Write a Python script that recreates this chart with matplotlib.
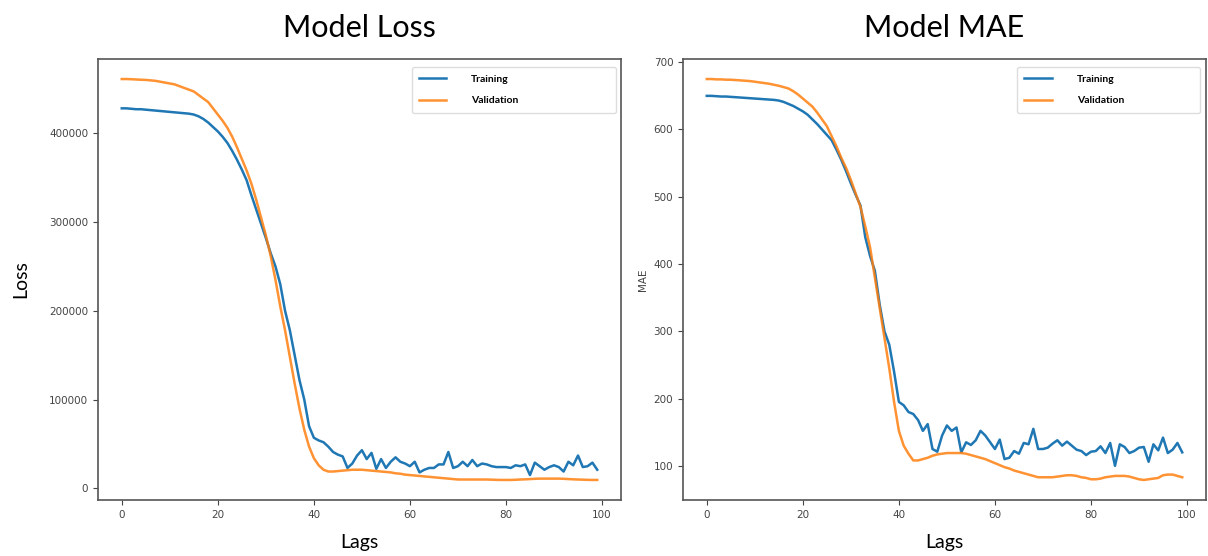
import matplotlib.pyplot as plt

epochs = list(range(100))

loss_train = [428000, 428000, 427500, 427000, 427000, 426500, 426000, 425500, 425000, 424500,
              424000, 423500, 423000, 422500, 422000, 421000, 419000, 416000, 412000, 407000,
              402000, 396000, 389000, 380000, 370000, 359000, 347000, 330000, 314000, 298000,
              282000, 265000, 250000, 230000, 200000, 178000, 150000, 122000, 100000, 70000,
              57000, 54000, 52000, 47000, 41000, 38000, 36000, 23000, 28000, 37000,
              43000, 33000, 40000, 22000, 33000, 23000, 30000, 35000, 30000, 28000,
              25000, 30000, 18000, 21000, 23000, 23000, 27000, 27000, 41000, 23000,
              25000, 30000, 25000, 32000, 25000, 28000, 27000, 25000, 24000, 24000,
              24000, 23000, 26000, 25000, 27000, 15000, 29000, 25000, 21000, 24000,
              26000, 24000, 19000, 30000, 26000, 37000, 24000, 25000, 29000, 21000]
loss_val = [461000, 461000, 460800, 460500, 460200, 460000, 459500, 459000, 458000, 457000,
            456000, 455000, 453000, 451000, 449000, 447000, 443000, 439000, 435000, 428000,
            421000, 414000, 406000, 396000, 384000, 371000, 358000, 343000, 325000, 305000,
            285000, 262000, 235000, 205000, 178000, 148000, 118000, 90000, 66000, 47000,
            34000, 26000, 21000, 19000, 19000, 19500, 20000, 20500, 21000, 21000,
            21000, 20500, 20000, 19500, 19000, 18500, 18000, 17000, 16500, 15500,
            15000, 14500, 14000, 13500, 13000, 12500, 12000, 11500, 11000, 10500,
            10000, 10000, 10000, 10000, 10000, 10000, 10000, 9800, 9600, 9500,
            9500, 9500, 9700, 10000, 10200, 10500, 10800, 11000, 11000, 11000,
            11000, 11000, 10800, 10500, 10200, 10000, 9800, 9600, 9500, 9500]

mae_train = [650, 650, 649.5, 649, 649, 648.5, 648, 647.5, 647, 646.5,
             646, 645.5, 645, 644.5, 644, 643, 641, 638, 635, 631,
             627, 622, 615, 608, 600, 592, 584, 570, 555, 538,
             520, 503, 487, 440, 412, 390, 340, 300, 280, 240,
             195, 190, 180, 177, 168, 152, 162, 125, 121, 145,
             160, 152, 157, 120, 135, 131, 138, 152, 145, 135,
             125, 139, 110, 112, 122, 118, 134, 132, 155, 125,
             125, 127, 133, 138, 130, 136, 130, 124, 122, 116,
             121, 122, 129, 119, 134, 100, 132, 128, 119, 122,
             127, 128, 106, 132, 123, 142, 119, 124, 134, 120]
mae_val = [675, 675, 674.5, 674.5, 674, 674, 673.5, 673, 672.5, 672,
           671, 670, 669, 668, 666.5, 665, 663, 661, 657, 652,
           646, 640, 634, 625, 615, 605, 590, 575, 558, 543,
           525, 505, 485, 456, 425, 380, 335, 290, 245, 195,
           152, 130, 118, 108, 108, 110, 112, 115, 117, 118,
           119, 119, 119, 119, 118, 116, 114, 112, 110, 107,
           104, 101, 98, 96, 93, 91, 89, 87, 85, 83,
           83, 83, 83, 84, 85, 86, 86, 85, 83, 82,
           80, 80, 81, 83, 84, 85, 85, 85, 84, 82,
           80, 79, 80, 81, 82, 86, 87, 87, 85, 83]

big_font = 'Lato'
tick_col = '#444444'

fig = plt.figure(figsize=(12.08, 5.56), dpi=100)
ax1 = fig.add_axes([98/1208, 1-500/556, 523/1208, 441/556])
ax2 = fig.add_axes([683/1208, 1-500/556, 523/1208, 441/556])


def style(ax, train, val, legend_box):
    ax.plot(epochs, train, color='#1f77b4', lw=1.8, label='Training')
    ax.plot(epochs, val, color='#ff7f0e', lw=1.8, alpha=0.85, label='Validation')
    ax.tick_params(labelsize=7.5, colors=tick_col, length=3.5)
    for s in ax.spines.values():
        s.set_color('#555555')
        s.set_linewidth(1.2)
    ax.set_xticks([0, 20, 40, 60, 80, 100])
    leg = ax.legend(loc='upper right', bbox_to_anchor=legend_box, mode='expand',
                    prop={'family': big_font, 'weight': 'bold', 'size': 7.5},
                    handlelength=2.6, handletextpad=2.4, labelspacing=1.2,
                    borderpad=0.7, borderaxespad=0, fancybox=True, framealpha=1)
    leg.get_frame().set_edgecolor('#dddddd')


style(ax1, loss_train, loss_val, (0.600, 0.871, 0.390, 0.111))
style(ax2, mae_train, mae_val, (0.639, 0.871, 0.350, 0.111))

ax1.set_title('Model Loss', fontsize=22, family=big_font, pad=16)
ax2.set_title('Model MAE', fontsize=22, family=big_font, pad=16)
ax1.set_ylabel('Loss', fontsize=14, family=big_font, labelpad=14)
ax1.set_xlabel('Lags', fontsize=14, family=big_font, labelpad=10)
ax2.set_xlabel('Lags', fontsize=14, family=big_font, labelpad=10)
ax2.set_ylabel('MAE', fontsize=7.5, color=tick_col)

fig.savefig('out.png', dpi=100)
